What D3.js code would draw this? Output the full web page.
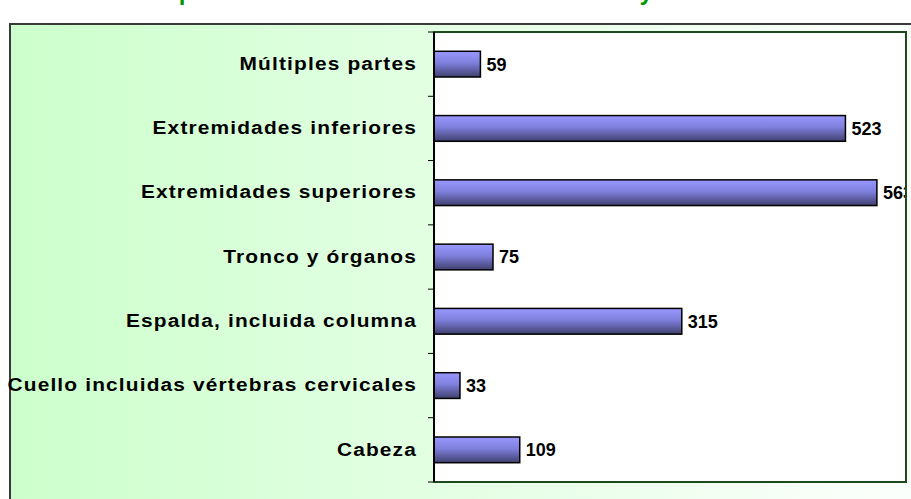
<!DOCTYPE html>
<html>
<head>
<meta charset="utf-8">
<script src="https://cdn.jsdelivr.net/npm/d3@7"></script>
<style>
  body { margin: 0; background: #fff; }
  svg { display: block; font-family: "Liberation Sans", Arial, sans-serif; }
</style>
</head>
<body>
<div id="chart"></div>
<script>
// data (top to bottom)
var categories = ["Múltiples partes", "Extremidades inferiores", "Extremidades superiores",
  "Tronco y órganos", "Espalda, incluida columna", "Cuello incluidas vértebras cervicales", "Cabeza"];
var values = [59, 523, 563, 75, 315, 33, 109];
var xMax = 600;
var titleText = "Accidentes por ubicación anatómica de las lesiones y año";

var width = 911, height = 499;
var plot = {left: 434, top: 32, right: 906, bottom: 482};

var svg = d3.select("#chart").append("svg")
  .attr("width", width)
  .attr("height", height);

var defs = svg.append("defs");
var bg = defs.append("linearGradient").attr("id", "bg").attr("x1", 0).attr("x2", 1).attr("y1", 0).attr("y2", 0);
bg.append("stop").attr("offset", "0%").attr("stop-color", "#ccffcc");
bg.append("stop").attr("offset", "95%").attr("stop-color", "#fbfffb");
var barGrad = defs.append("linearGradient").attr("id", "barg").attr("x1", 0).attr("x2", 0).attr("y1", 0).attr("y2", 1);
barGrad.append("stop").attr("offset", "0%").attr("stop-color", "#9999ff");
barGrad.append("stop").attr("offset", "45%").attr("stop-color", "#7f7fdd");
barGrad.append("stop").attr("offset", "100%").attr("stop-color", "#40406e");
defs.append("clipPath").attr("id", "plotclip")
  .append("rect").attr("x", plot.left).attr("y", plot.top)
  .attr("width", plot.right - plot.left + 1).attr("height", plot.bottom - plot.top);

// title, mostly above the window (as in the picture)
svg.append("text")
  .attr("x", 45).attr("y", 0)
  .attr("fill", "#009900")
  .attr("font-size", "24px").attr("font-weight", "bold")
  .attr("word-spacing", "-1px")
  .text(titleText);

// chart area
svg.append("rect")
  .attr("x", 10).attr("y", 24)
  .attr("width", 920).attr("height", 500)
  .attr("fill", "url(#bg)")
  .attr("stroke", "#3a3a3a").attr("stroke-width", 2);

svg.append("rect")
  .attr("x", plot.left).attr("y", plot.top)
  .attr("width", plot.right - plot.left).attr("height", plot.bottom - plot.top)
  .attr("fill", "#ffffff");

var x = d3.scaleLinear().domain([0, xMax]).range([plot.left, plot.right]);
var y = d3.scaleBand().domain(categories).range([plot.top, plot.bottom]).paddingInner(0.6).paddingOuter(0.3);
var yTicks = d3.scaleBand().domain(categories).range([plot.top, plot.bottom]);

// bars
svg.selectAll(".bar")
  .data(values)
  .enter().append("rect")
  .attr("class", "bar")
  .attr("x", x(0))
  .attr("y", function(d, i) { return y(categories[i]); })
  .attr("width", function(d) { return x(d) - x(0); })
  .attr("height", y.bandwidth())
  .attr("fill", "url(#barg)")
  .attr("stroke", "#000").attr("stroke-width", 1.5);

// value labels
svg.append("g").attr("clip-path", "url(#plotclip)")
  .selectAll("text")
  .data(values)
  .enter().append("text")
  .attr("x", function(d) { return x(d) + 6; })
  .attr("y", function(d, i) { return y(categories[i]) + y.bandwidth() / 2; })
  .attr("dy", "0.36em")
  .attr("font-size", "18px").attr("font-weight", "bold")
  .text(function(d) { return d; });

// category axis
var yAxis = d3.axisLeft(yTicks).tickSize(0).tickPadding(0);
var ag = svg.append("g").attr("transform", "translate(" + plot.left + ",0)").call(yAxis);
ag.select(".domain").remove();
ag.selectAll("text")
  .attr("x", 0)
  .attr("transform", "translate(-17,0) scale(1.16,1)")
  .attr("font-size", "18px").attr("font-weight", "bold")
  .attr("letter-spacing", "1px")
  .attr("font-family", "\"Liberation Sans\", Arial, sans-serif")
  .attr("fill", "#000");

// tick marks between categories
var tickYs = [plot.top].concat(categories.map(function(c) { return yTicks(c) + yTicks.bandwidth(); }));
svg.selectAll(".tk")
  .data(tickYs)
  .enter().append("line")
  .attr("x1", plot.left - 6).attr("x2", plot.left)
  .attr("y1", function(d) { return d; }).attr("y2", function(d) { return d; })
  .attr("stroke", "#000").attr("stroke-width", 1);

// plot border
svg.append("rect")
  .attr("x", plot.left).attr("y", plot.top)
  .attr("width", plot.right - plot.left).attr("height", plot.bottom - plot.top)
  .attr("fill", "none")
  .attr("stroke", "#1c4a1c").attr("stroke-width", 2);
svg.append("line")
  .attr("x1", plot.left).attr("x2", plot.left)
  .attr("y1", plot.top).attr("y2", plot.bottom)
  .attr("stroke", "#000").attr("stroke-width", 2);
</script>
</body>
</html>
